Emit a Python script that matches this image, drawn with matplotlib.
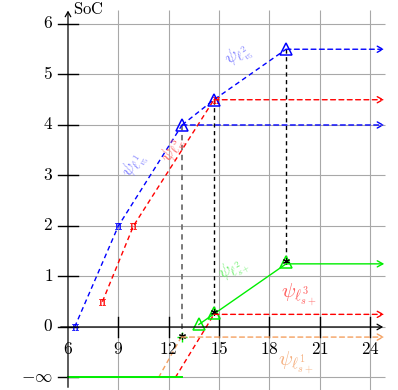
"""
SoC 随时间变化的分段路径示意图（ψ 标注各段），输出 out.png。
"""
import numpy as np
import matplotlib
matplotlib.use("Agg")
import matplotlib.pyplot as plt

plt.rcParams["mathtext.fontset"] = "cm"
plt.rcParams["font.family"] = ["DejaVu Serif"]

# 坐标轴刻度
X_TICKS = [6, 9, 12, 15, 18, 21, 24]
Y_TICKS = [-1, 0, 1, 2, 3, 4, 5, 6]
Y_TICK_LABELS = [r"$-\infty$", "$0$", "$1$", "$2$", "$3$", "$4$", "$5$", "$6$"]
X_END = 24.85

# 各段路径 (时间, SoC)
blueT = [6.4, 9.0, 12.8]
blueS = [0.0, 2.0, 4.0]
blue2T = [12.8, 14.7, 19.0]
blue2S = [4.0, 4.5, 5.5]
redT = [8.05, 9.9, 14.7]
redS = [0.5, 2.0, 4.5]
redLowT = [12.4, 14.7]
redLowS = [-1.0, 0.25]
orangeT = [11.4, 12.75]
orangeS = [-1.0, -0.2]
greenFloorT = [6.0, 12.8]
greenFloorS = [-1.0, -1.0]
greenT = [13.8, 19.0]
greenS = [0.05, 1.25]

# 水平延伸段: (起点时间, SoC, 颜色, 线型)
HOLD = [
    (19.0, 5.5, "#0000ff", "--"),
    (14.7, 4.5, "#ff0000", "--"),
    (12.8, 4.0, "#0000ff", "--"),
    (19.0, 1.25, "#00ee00", "-"),
    (14.7, 0.25, "#ff0000", "--"),
    (12.75, -0.2, "#f4a060", "--"),
]

# 竖直虚线 (时间, 顶部 SoC, 底部 SoC)
DROPS = [(12.8, 4.0, -0.2, "#707070"), (14.7, 4.5, 0.25, "black"), (19.0, 5.5, 1.25, "black")]

DASH = (0, (3.5, 2.5))

fig = plt.figure(figsize=(3.98, 3.90), dpi=100)
ax = fig.add_axes([0, 0, 1, 1])
ax.set_xlim(1.947, 25.67)
ax.set_ylim(-1.248, 6.475)
ax.axis("off")

# 网格
ax.vlines(X_TICKS[1:], -1.25, 6.28, color="#a8a8a8", lw=0.8, zorder=0)
ax.hlines(Y_TICKS, 6.0, 24.9, color="#a8a8a8", lw=0.8, zorder=0)

# 坐标轴
ax.annotate("", xy=(24.95, 0), xytext=(5.4, 0),
            arrowprops=dict(arrowstyle="->,head_length=0.35,head_width=0.2", lw=0.9, color="black"))
ax.annotate("", xy=(6, 6.32), xytext=(6, -1.25),
            arrowprops=dict(arrowstyle="->,head_length=0.35,head_width=0.2", lw=0.9, color="black"))
ax.text(6.3, 6.28, r"$\mathrm{SoC}$", fontsize=12, va="center", ha="left")
for t in X_TICKS[1:]:
    ax.plot([t, t], [-0.2, 0.2], color="black", lw=1.0)
for t, lab in zip(X_TICKS, ["$%d$" % v for v in X_TICKS]):
    ax.text(t, -0.44, lab, fontsize=12.5, ha="center", va="center")
for s, lab in zip(Y_TICKS, Y_TICK_LABELS):
    ax.plot([5.4, 6.6], [s, s], color="black", lw=1.0)
    ax.text(5.1, s, lab, fontsize=12.5, ha="right", va="center")

# 主路径
ax.plot(blueT, blueS, color="#0000ff", lw=1.0, ls=DASH)
ax.plot(blue2T, blue2S, color="#0000ff", lw=1.0, ls=DASH)
ax.plot(redT, redS, color="#ff0000", lw=1.0, ls=DASH)
ax.plot(redLowT, redLowS, color="#ff0000", lw=1.0, ls=DASH)
ax.plot(orangeT, orangeS, color="#f4a060", lw=1.0, ls=DASH)
ax.plot(greenFloorT, greenFloorS, color="#00ee00", lw=1.4)
ax.plot(greenT, greenS, color="#00ee00", lw=1.0)

for t0, s, c, ls in HOLD:
    ax.annotate("", xy=(X_END, s), xytext=(t0, s),
                arrowprops=dict(arrowstyle="->,head_length=0.4,head_width=0.22", lw=1.0,
                                color=c, linestyle=DASH if ls == "--" else "-",
                                shrinkA=0, shrinkB=0))

for t, top, bot, c in DROPS:
    ax.plot([t, t], [top, bot], color=c, lw=1.0 if c == "black" else 1.3, ls=(0, (3, 2.5)), zorder=1)

# 标记点
PI_MARK = dict(ls="none", marker=r"$\Pi$", ms=4.5, mew=0.3)
ax.plot(blueT[:2], blueS[:2], color="#0000ff", **PI_MARK)
ax.plot(redT[:2], redS[:2], color="#ff0000", **PI_MARK)
ax.plot([14.85], [4.5], color="#ff0000", **PI_MARK)
ax.plot(blue2T, blue2S, ls="none", marker="^", ms=8, mfc="none", mec="#0000ff", mew=1.1)
ax.plot([13.8, 14.7, 19.0], [0.05, 0.28, 1.29], ls="none", marker="^", ms=8, mfc="none",
        mec="#00ee00", mew=1.1)
ax.plot([12.8], [-0.2], ls="none", marker="+", ms=7, color="#00ee00", mew=1.0)
ax.plot([12.8, 14.7, 19.0], [-0.17, 0.3, 1.3], ls="none", marker=(6, 2, 0), ms=5,
        color="black", mew=0.8)

# 段标注
ax.text(9.95, 3.2, r"$\psi_{\ell^1_{v_5}}$", color="#8080ff", fontsize=13, rotation=58,
        ha="center", va="center")
ax.text(16.15, 5.38, r"$\psi_{\ell^2_{v_5}}$", color="#8080ff", fontsize=13, rotation=33,
        ha="center", va="center")
ax.text(12.3, 3.5, r"$\psi_{\ell^3_{v_5}}$", color="#ff6060", fontsize=13, rotation=65,
        ha="center", va="center")
ax.text(15.85, 1.15, r"$\psi_{\ell^2_{s+}}$", color="#70f070", fontsize=13, rotation=30,
        ha="center", va="center")
ax.text(19.75, 0.65, r"$\psi_{\ell^3_{s+}}$", color="#ff6060", fontsize=15,
        ha="center", va="center")
ax.text(19.6, -0.7, r"$\psi_{\ell^1_{s+}}$", color="#f5b080", fontsize=15,
        ha="center", va="center")

fig.savefig("out.png", dpi=100)
